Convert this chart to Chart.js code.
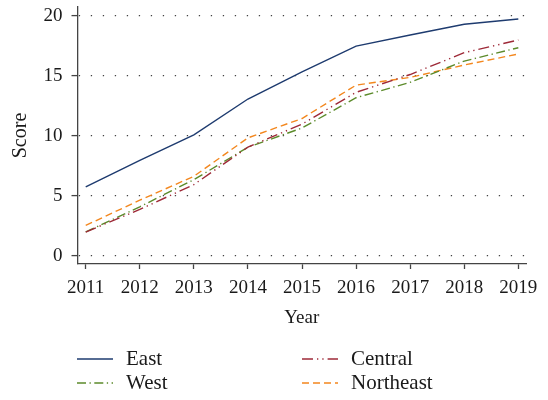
<!DOCTYPE html>
<html>
<head>
    <title>Score by region</title>
    <style>
        body { margin: 0; background: #fff; }
    </style>
</head>
<body>
<canvas id="myChart" width="548" height="400"></canvas>
<script src="https://cdn.jsdelivr.net/npm/chart.js@4.4.0/dist/chart.umd.min.js"></script>
<script>
    // data
    var years = [2011, 2012, 2013, 2014, 2015, 2016, 2017, 2018, 2019];
    var east = [5.75, 7.95, 10.08, 13.06, 15.33, 17.47, 18.39, 19.28, 19.72];
    var central = [1.99, 3.87, 5.94, 9.06, 10.97, 13.62, 15.1, 16.92, 17.97];
    var west = [2.0, 4.09, 6.35, 9.05, 10.65, 13.17, 14.45, 16.22, 17.33];
    var northeast = [2.54, 4.64, 6.63, 9.83, 11.44, 14.22, 14.86, 15.89, 16.81];
    var yTicks = [0, 5, 10, 15, 20];

    var serif = '"Liberation Serif", "DejaVu Serif", serif';
    var ink = '#1a1a1a';

    function pts(vals) {
        return vals.map(function (v, i) { return { x: years[i], y: v }; });
    }

    function line(label, vals, color, dash) {
        return {
            label: label,
            data: pts(vals),
            borderColor: color,
            backgroundColor: color,
            borderWidth: 1.4,
            borderDash: dash,
            pointRadius: 0,
            tension: 0,
            fill: false
        };
    }

    // fixed axis sizes, no automatic label padding
    function noPad(axis) {
        axis.paddingTop = 0;
        axis.paddingBottom = 0;
        axis.paddingLeft = 0;
        axis.paddingRight = 0;
    }

    // 2x2 legend under the plot, drawn on the canvas
    var gridLegend = {
        id: 'gridLegend',
        afterDraw: function (chart) {
            var ctx = chart.ctx;
            var colX = [77, 302];
            var rowY = [359, 383];
            chart.data.datasets.forEach(function (ds, i) {
                var x = colX[i % 2], y = rowY[Math.floor(i / 2)];
                ctx.save();
                ctx.strokeStyle = ds.borderColor;
                ctx.lineWidth = 1.3;
                ctx.setLineDash(ds.borderDash || []);
                ctx.beginPath();
                ctx.moveTo(x, y);
                ctx.lineTo(x + 36, y);
                ctx.stroke();
                ctx.setLineDash([]);
                ctx.fillStyle = ink;
                ctx.font = '21px ' + serif;
                ctx.textBaseline = 'middle';
                ctx.fillText(ds.label, x + 49, y);
                ctx.restore();
            });
        }
    };

    var ctx = document.getElementById('myChart').getContext('2d');
    var chart = new Chart(ctx, {
        type: 'line',
        data: {
            datasets: [
                line('East', east, '#1e3b6f', []),
                line('Central', central, '#9e2a38', [11, 4, 1.3, 4, 1.3, 4]),
                line('West', west, '#5c8b2b', [9, 3.5, 1.3, 3.5]),
                line('Northeast', northeast, '#f3871e', [7, 4])
            ]
        },
        options: {
            responsive: false,
            animation: false,
            layout: { padding: { top: 7, right: 22, bottom: 69, left: 0 } },
            plugins: {
                legend: { display: false },
                tooltip: { enabled: false }
            },
            scales: {
                x: {
                    type: 'linear',
                    min: 2010.848,
                    max: 2019.142,
                    afterBuildTicks: function (axis) {
                        axis.ticks = years.map(function (y) { return { value: y }; });
                    },
                    afterFit: function (axis) {
                        noPad(axis);
                        axis.height = 67;
                    },
                    ticks: {
                        color: ink,
                        font: { family: serif, size: 19 },
                        padding: 8,
                        maxRotation: 0,
                        callback: function (v) { return String(v); }
                    },
                    grid: {
                        drawOnChartArea: false,
                        tickLength: 5,
                        tickColor: '#444',
                        tickWidth: 1.3
                    },
                    border: { color: '#444', width: 1.3 },
                    title: {
                        display: true,
                        text: 'Year',
                        color: ink,
                        font: { family: serif, size: 19 },
                        padding: { top: 5, bottom: 1.5 }
                    }
                },
                y: {
                    min: -0.67,
                    max: 20.72,
                    afterBuildTicks: function (axis) {
                        axis.ticks = yTicks.map(function (v) { return { value: v }; });
                    },
                    afterFit: function (axis) {
                        noPad(axis);
                        axis.width = 77.5;
                    },
                    ticks: {
                        color: ink,
                        font: { family: serif, size: 19 },
                        padding: 9
                    },
                    grid: {
                        color: '#444',
                        lineWidth: 1.2,
                        tickLength: 6,
                        tickColor: '#444',
                        tickWidth: 1.3,
                        tickBorderDash: []
                    },
                    border: { color: '#444', width: 1.3, dash: [1.3, 10.7], dashOffset: -0.5 },
                    title: {
                        display: true,
                        text: 'Score',
                        color: ink,
                        font: { family: serif, size: 20 },
                        padding: { top: 9, bottom: 0 }
                    }
                }
            }
        },
        plugins: [gridLegend]
    });
</script>
</body>
</html>
